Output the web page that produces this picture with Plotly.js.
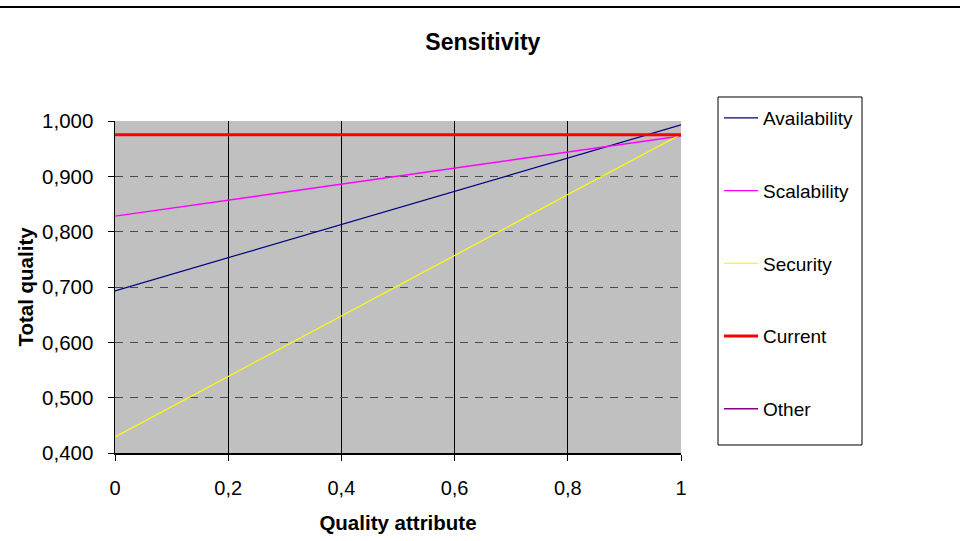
<!DOCTYPE html>
<html>
<head>
<meta charset="utf-8">
<script src="https://cdn.plot.ly/plotly-3.0.1.min.js"></script>
<style>html,body{margin:0;padding:0;background:#fff;}#chart{width:960px;height:541px;}</style>
</head>
<body>
<div id="chart"></div>
<script>
const xValues = [0, 0.2, 0.4, 0.6, 0.8, 1];
const availability = [0.693, 0.753, 0.813, 0.873, 0.933, 0.993];
const scalability = [0.828, 0.857, 0.886, 0.915, 0.944, 0.973];
const security = [0.429, 0.538, 0.648, 0.757, 0.867, 0.976];
const current = [0.975, 0.975, 0.975, 0.975, 0.975, 0.975];
const other = [0.975, 0.975, 0.975, 0.975, 0.975, 0.975];
const seriesNames = ["Availability", "Scalability", "Security", "Current", "Other"];

const FONT = "Liberation Sans, Arial, sans-serif";
const mk = (name, y, color, width, rank) => ({
  x: xValues, y: y, name: name, type: "scatter", mode: "lines",
  line: {color: color, width: width}, legendgroup: name, legendrank: rank
});
const data = [
  mk(seriesNames[4], other, "#800080", 1.5, 5),
  mk(seriesNames[0], availability, "#000080", 1.2, 1),
  mk(seriesNames[1], scalability, "#ff00ff", 1.4, 2),
  mk(seriesNames[2], security, "#ffff00", 1.2, 3),
  mk(seriesNames[3], current, "#ff0000", 3, 4)
];

const layout = {
  width: 960, height: 541,
  margin: {l: 115, r: 279, t: 121, b: 88, pad: 0},
  paper_bgcolor: "#ffffff", plot_bgcolor: "#c0c0c0",
  separators: ", ",
  font: {family: FONT, color: "#000000", size: 18},
  title: {text: "<b>Sensitivity</b>", font: {family: FONT, size: 23, color: "#000"}, x: 0.503, xref: "container", y: 0.922, yref: "container", yanchor: "middle"},
  xaxis: {
    range: [0, 1], dtick: 0.2, tick0: 0, fixedrange: true,
    showline: true, linecolor: "#000", linewidth: 1.5,
    ticks: "outside", ticklen: 6, tickcolor: "#000", tickwidth: 1,
    tickfont: {family: FONT, size: 20}, ticklabelstandoff: 10,
    showgrid: true, gridcolor: "#000000", gridwidth: 1.2, zeroline: false,
    title: {text: "<b>Quality attribute</b>", font: {family: FONT, size: 20.5}, standoff: 18}
  },
  yaxis: {
    range: [0.4, 1.0], dtick: 0.1, tick0: 0.4, tickformat: ".3f", fixedrange: true,
    showline: true, linecolor: "#000", linewidth: 1.5,
    ticks: "outside", ticklen: 6, tickcolor: "#000", tickwidth: 1,
    tickfont: {family: FONT, size: 20.5}, ticklabelstandoff: 10,
    showgrid: true, gridcolor: "#4a4a4a", gridwidth: 1, griddash: "8px,7px", zeroline: false,
    title: {text: "<b>Total quality</b>", font: {family: FONT, size: 20.5}, standoff: 3}
  },
  legend: {
    x: 1.0672, xanchor: "left", y: 1.066, yanchor: "top",
    bordercolor: "rgba(0,0,0,0)", borderwidth: 0, bgcolor: "rgba(0,0,0,0)",
    font: {family: FONT, size: 19}, traceorder: "grouped", tracegroupgap: 45,
    itemwidth: 34, maxheight: 500
  },
  shapes: [
    {type: "line", xref: "paper", yref: "paper", x0: -0.3, x1: 1.6, y0: 1.343, y1: 1.343, line: {color: "#000", width: 2}},
    {type: "rect", xref: "paper", yref: "paper", x0: 1.0654, x1: 1.3198, y0: 0.0241, y1: 1.0723, line: {color: "#000", width: 1}, fillcolor: "#ffffff", layer: "above"}
  ],
  showlegend: true
};
Plotly.newPlot("chart", data, layout, {displayModeBar: false, staticPlot: true});
</script>
</body>
</html>
